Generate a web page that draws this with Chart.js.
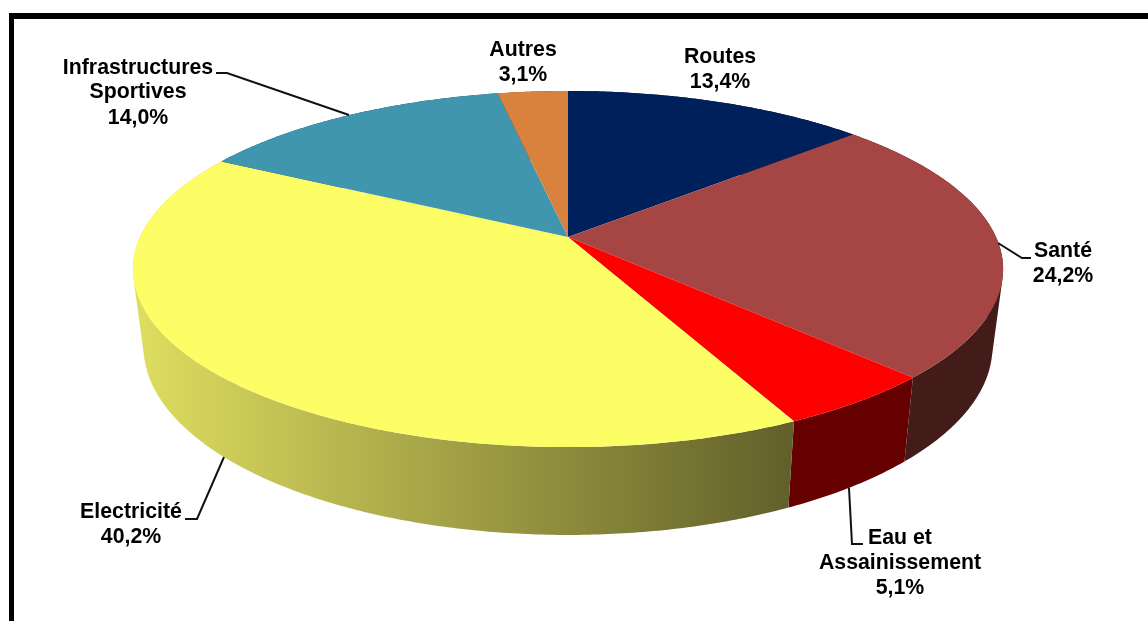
<!DOCTYPE html>
<html lang="fr">
<head>
<meta charset="utf-8">
<title>Répartition par secteur</title>
<script src="https://cdn.jsdelivr.net/npm/chart.js@4/dist/chart.umd.min.js"></script>
<style>
    html, body { margin: 0; padding: 0; background: #fff; overflow: hidden; }
    #wrap { position: relative; width: 1148px; height: 621px; }
    #frame { position: absolute; left: 9px; top: 13px; right: 0; bottom: 0;
             border-top: 6px solid #000; border-left: 5px solid #000; }
    canvas { position: absolute; left: 0; top: 0; filter: blur(0.35px); }
</style>
</head>
<body>
<div id="wrap">
    <div id="frame"></div>
    <canvas id="pie" width="1148" height="621"></canvas>
</div>
<script>
"use strict";

// ---------- Data ----------

const categories = ["Routes", "Santé", "Eau et Assainissement", "Electricité", "Infrastructures Sportives", "Autres"];
const shares = [13.4, 24.2, 5.1, 40.2, 14.0, 3.1];
const faceColors = ["#00205c", "#a54644", "#ff0000", "#fdfd66", "#4096ae", "#d8823e"];
const wallColors = ["#000f2e", "#431c1a", "#660000", null, "#204b57", "#6c411f"];

// ---------- Layout ----------

// how the flat disc is tilted: top face and bottom face of the slab
const TOP_FACE = { cx: 568, cy: 237, rx: 428, ry: 172.3, k: 0.18 };
const BOTTOM_FACE = { cx: 568, cy: 313, rx: 417.5, ry: 182, k: 0.18 };

// one entry per category, same order
const LABEL_LAYOUT = [
    { x: 720, lines: ["Routes"], baselines: [63, 88], leader: null },
    { x: 1063, lines: ["Santé"], baselines: [257, 282], leader: [[998, 243], [1022, 258], [1031, 258]] },
    { x: 900, lines: ["Eau et", "Assainissement"], baselines: [544, 569, 594], leader: [[849, 488], [852, 544], [863, 544]] },
    { x: 131, lines: ["Electricité"], baselines: [518, 543], leader: [[224, 457], [197, 519], [185, 519]] },
    { x: 138, lines: ["Infrastructures", "Sportives"], baselines: [74, 98, 124], leader: [[216, 73], [227, 73], [349, 115]] },
    { x: 523, lines: ["Autres"], baselines: [56, 81], leader: null },
];

// ---------- Drawing ----------

function project(face, angle) {
    const X = Math.cos(angle);
    const Y = Math.sin(angle);
    const s = 1 / (1 - face.k * Y);
    return [face.cx + face.rx * X * s, face.cy + face.ry * Y * s];
}

function traceArc(ctx, face, from, to) {
    const steps = Math.max(2, Math.ceil(Math.abs(to - from) / 0.01));
    for (let i = 0; i <= steps; i++) {
        const p = project(face, from + (to - from) * i / steps);
        ctx.lineTo(p[0], p[1]);
    }
}

function wallFill(ctx, index) {
    if (wallColors[index]) return wallColors[index];
    const grad = ctx.createLinearGradient(135, 0, 790, 0);
    grad.addColorStop(0, "#dede60");
    grad.addColorStop(1, "#62602a");
    return grad;
}

function signedArea(pts) {
    let sum = 0;
    pts.forEach((p, i) => {
        const q = pts[(i + 1) % pts.length];
        sum += p[0] * q[1] - q[0] * p[1];
    });
    return sum;
}

// side of one slice: small quads in a single path, all wound the same way,
// so the curved silhouette gets filled and no seams show between them
function drawWall(ctx, arc, fill) {
    const steps = Math.ceil((arc.endAngle - arc.startAngle) / 0.01);
    ctx.beginPath();
    for (let i = 0; i < steps; i++) {
        const a = arc.startAngle + (arc.endAngle - arc.startAngle) * i / steps;
        const b = arc.startAngle + (arc.endAngle - arc.startAngle) * (i + 1) / steps;
        const quad = [project(TOP_FACE, a), project(TOP_FACE, b), project(BOTTOM_FACE, b), project(BOTTOM_FACE, a)];
        if (signedArea(quad) < 0) quad.reverse();
        ctx.moveTo(quad[0][0], quad[0][1]);
        quad.slice(1).forEach((p) => ctx.lineTo(p[0], p[1]));
        ctx.closePath();
    }
    ctx.fillStyle = fill;
    ctx.fill();
}

const pie3d = {
    id: "pie3d",
    // the library works out the slice angles, we only project them
    beforeDatasetDraw(chart, args) {
        const ctx = chart.ctx;
        const arcs = args.meta.data;
        ctx.save();
        arcs.forEach((arc, i) => drawWall(ctx, arc, wallFill(ctx, i)));
        arcs.forEach((arc, i) => {
            ctx.beginPath();
            ctx.moveTo(TOP_FACE.cx, TOP_FACE.cy);
            traceArc(ctx, TOP_FACE, arc.startAngle, arc.endAngle);
            ctx.closePath();
            ctx.fillStyle = faceColors[i];
            ctx.fill();
        });
        ctx.restore();
        return false;
    },
    afterDraw(chart) {
        const ctx = chart.ctx;
        ctx.save();
        ctx.font = "bold 21.3px 'Liberation Sans', Arial, sans-serif";
        ctx.textAlign = "center";
        ctx.textBaseline = "alphabetic";
        ctx.fillStyle = "#000";
        ctx.strokeStyle = "#111";
        ctx.lineWidth = 2;
        LABEL_LAYOUT.forEach((label, i) => {
            const text = label.lines.concat(formatShare(shares[i]));
            text.forEach((line, n) => ctx.fillText(line, label.x, label.baselines[n]));
            if (!label.leader) return;
            ctx.beginPath();
            label.leader.forEach((p) => ctx.lineTo(p[0], p[1]));
            ctx.stroke();
        });
        ctx.restore();
    },
};

function formatShare(v) {
    return v.toFixed(1).replace(".", ",") + "%";
}

new Chart(document.getElementById("pie"), {
    type: "pie",
    data: {
        labels: categories,
        datasets: [{ data: shares, backgroundColor: faceColors, borderWidth: 0 }],
    },
    options: {
        responsive: false,
        animation: false,
        plugins: { legend: { display: false }, tooltip: { enabled: false } },
    },
    plugins: [pie3d],
});
</script>
</body>
</html>
